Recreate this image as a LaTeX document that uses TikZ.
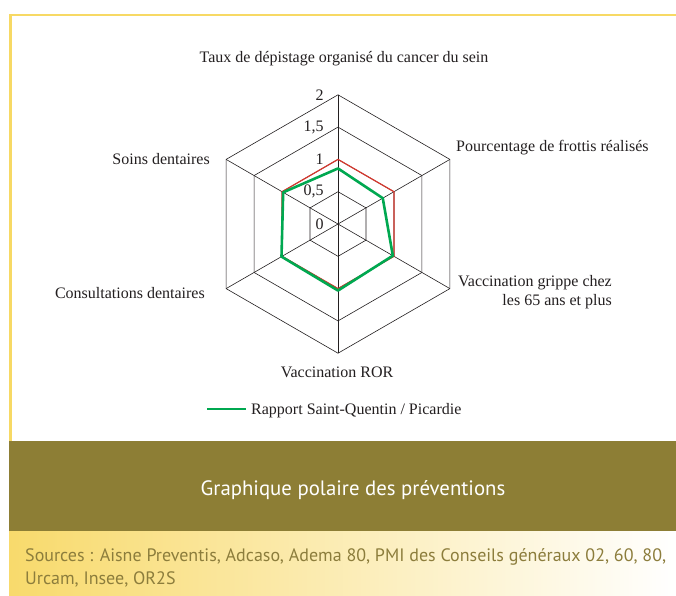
\documentclass[tikz,border=0pt]{standalone}
\usepackage{fontspec}
\setmainfont{Liberation Serif}
\newfontfamily\bandfont{PT Sans}
\definecolor{frameyellow}{RGB}{247,217,100}
\definecolor{olive}{RGB}{141,126,53}
\definecolor{srcyellow}{RGB}{248,218,108}
\definecolor{srctext}{RGB}{140,125,60}
\definecolor{redline}{RGB}{214,56,46}
\definecolor{greenline}{RGB}{0,168,80}
\definecolor{txt}{RGB}{35,31,32}
\tikzset{
  lbl/.style={font=\fontsize{16}{19}\selectfont, text=txt, inner sep=0pt},
  gridline/.style={draw=txt, line width=0.6pt},
  refline/.style={draw=redline, line width=1.2pt, line join=miter},
  dataline/.style={draw=greenline, line width=2.6pt, line join=round},
}
\begin{document}
\begin{tikzpicture}[x=1pt,y=-1pt]
\useasboundingbox (0,0) rectangle (676,595);
\fill[white] (0,0) rectangle (676,595);
% frame
\draw[frameyellow, line width=2.8pt] (10.4,441) -- (10.4,15) -- (676,15);
% olive band
\fill[olive] (9,441) rectangle (676,531);
\node[font=\bandfont\fontsize{20.8}{24}\selectfont, text=white] (title) at (353,490) {Graphique polaire des préventions};
% gradient band
\shade[left color=srcyellow, right color=white] (9,531) rectangle (676,595);
\node[font=\bandfont\fontsize{18}{23}\selectfont, text=srctext, anchor=north west, align=left, inner sep=0pt] (src) at (25,548) {Sources : Aisne Preventis, Adcaso, Adema 80, PMI des Conseils généraux 02, 60, 80,\\Urcam, Insee, OR2S};
% radar
\begin{scope}[shift={(338,224)}, x=64.6pt, y=64.6pt]
  \foreach \r in {0.5,1,1.5,2}
    \draw[gridline] (90:\r) -- (30:\r) -- (-30:\r) -- (-90:\r) -- (210:\r) -- (150:\r) -- cycle;
  \foreach \a in {90,30,-30,-90,210,150}
    \draw[gridline] (0,0) -- (\a:2);
  \draw[refline] (90:1) -- (30:1) -- (-30:1) -- (-90:1) -- (210:1) -- (150:1) -- cycle;
  \draw[dataline] (90:0.86) -- (30:0.80) -- (-30:0.98) -- (-90:1.03) -- (210:1.01) -- (150:0.98) -- cycle;
  \node[lbl, anchor=east] (t0) at (-0.22,0) {0};
  \node[lbl, anchor=east] (t05) at (-0.22,0.5) {0,5};
  \node[lbl, anchor=east] (t1) at (-0.22,1) {1};
  \node[lbl, anchor=east] (t15) at (-0.22,1.5) {1,5};
  \node[lbl, anchor=east] (t2) at (-0.22,2) {2};
\end{scope}
% axis labels
\node[lbl] (ax1) at (344,59) {Taux de dépistage organisé du cancer du sein};
\node[lbl, anchor=west] (ax2) at (456,148) {Pourcentage de frottis réalisés};
\node[lbl, anchor=east, align=right] (ax3) at (612,292) {Vaccination grippe chez\\les 65 ans et plus};
\node[lbl] (ax4) at (337,372) {Vaccination ROR};
\node[lbl, anchor=east] (ax5) at (205,293) {Consultations dentaires};
\node[lbl, anchor=east] (ax6) at (210,159) {Soins dentaires};
% legend
\coordinate (lg1) at (207,409);
\coordinate (lg2) at (246,409);
\draw[draw=greenline, line width=2.6pt] (lg1) -- (lg2);
\node[lbl, anchor=west] (lgt) at (251,411) {Rapport Saint-Quentin / Picardie};
\end{tikzpicture}
\end{document}
